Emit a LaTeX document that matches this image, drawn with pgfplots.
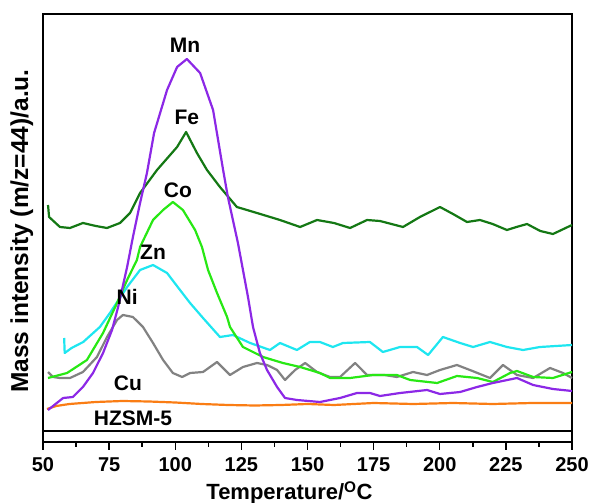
\documentclass[border=0pt]{standalone}
\usepackage{fontspec}
\setmainfont{Liberation Sans}
\usepackage{pgfplots}
\pgfplotsset{compat=1.18}
\usetikzlibrary{calc}

\definecolor{cMn}{RGB}{140,40,230}
\definecolor{cFe}{RGB}{20,120,20}
\definecolor{cCo}{RGB}{40,232,20}
\definecolor{cZn}{RGB}{30,230,240}
\definecolor{cNi}{RGB}{130,130,130}
\definecolor{cCu}{RGB}{250,125,20}

\newcommand{\lbl}{\bfseries\fontsize{21}{24}\selectfont}
\newcommand{\tck}{\bfseries\fontsize{20}{24}\selectfont}

\begin{document}
\begin{tikzpicture}
\begin{axis}[
    name=ax,
    width=529pt, height=428pt, scale only axis,
    xmin=50, xmax=250, ymin=61, ymax=489,
    xtick={50,75,...,250}, minor x tick num=1,
    ytick=\empty,
    xtick pos=bottom, xtick align=outside,
    major tick length=8pt, minor tick length=5pt,
    axis line style={line width=1.6pt},
    tick style={black, line width=1.4pt},
    tick label style={font=\tck},
    /pgf/number format/assume math mode=true,
    xticklabel style={yshift=-4pt},
    xlabel={Temperature/\textsuperscript{O}C},
    ylabel={Mass intensity (m/z=44)/a.u.},
    xlabel style={font=\bfseries\fontsize{22}{24}\selectfont, at={(axis description cs:0.5,0)}, anchor=center, yshift=-51pt, xshift=-18pt},
    ylabel style={font=\bfseries\fontsize{24.5}{26}\selectfont, at={(axis description cs:-0.04,0.493)}, anchor=center},
    every axis plot/.append style={line width=2.2pt, no marks, line join=round},
    clip=false,
]
% HZSM-5
\addplot[black, line width=2pt] coordinates {(50,72) (250,72)};
% Cu
\addplot[cCu] coordinates {
(51.5,94) (55,97) (60,99) (70,101) (80,102) (90,101.5) (100,100.5) (110,99) (120,98) (130,97.5)
(140,98) (150,99) (160,98) (175,100) (190,99) (205,100) (220,99) (235,100) (250,100)
};
% Ni
\addplot[cNi] coordinates {
(51.9,131) (53.8,126) (56.4,125) (60.2,125) (65.1,131) (70.4,146) (74.2,166) (78.0,183)
(80.2,188) (84.0,186) (87.8,176) (91.6,160) (95.4,143) (99.1,130) (102.6,126) (105.6,130)
(110.5,131) (115.8,141) (120.7,128) (125.6,136) (130.9,140) (134.7,138) (138.5,133)
(141.5,123) (145.3,133) (149.1,140) (153.6,131) (158.5,126) (162.3,126) (168.0,140)
(172.5,128) (179.1,128) (183.8,126) (189.9,131) (195.2,128) (200.1,133) (206.5,138)
(211.4,133) (219.0,125) (223.9,138) (229.2,128) (235.3,125) (241.7,135) (246.6,130) (250,125)
};
% Zn
\addplot[cZn] coordinates {
(58.0,165) (58.2,150) (60.8,155) (65.2,161) (71.5,176) (75.3,190) (81.8,216) (86.7,233)
(91.6,238) (96.9,230) (101.8,213) (105.6,200) (110.5,185) (116.9,166) (121.8,168)
(128.3,160) (135.8,153) (139.6,160) (146.0,153) (150.9,161) (154.7,161) (159.6,156)
(163.4,160) (173.6,161) (178.5,151) (185.0,156) (191.4,156) (195.6,148) (201.2,166)
(207.7,160) (212.6,156) (219.0,161) (225.4,156) (231.5,153) (237.9,156) (250,158)
};
% Co
\addplot[cCo] coordinates {
(51.9,125) (59.1,130) (66.6,143) (72.7,170) (78.0,200) (81.8,223) (85.5,243) (86.7,256)
(91.6,283) (95.4,293) (99.1,301) (102.9,293) (107.5,273) (110.1,256) (112.4,233)
(115.8,210) (119.6,186) (120.7,176) (125.6,156) (133.2,146) (140.7,140) (147.2,136)
(154.7,130) (158.5,125) (166.1,125) (174.8,128) (183.8,128) (188.8,123) (199.0,120)
(206.5,127) (214.1,125) (220.1,121) (226.6,130) (229.2,132) (235.3,126) (242.8,125) (250,131)
};
% Fe
\addplot[cFe] coordinates {
(51.9,298) (52.3,286) (56.4,276) (60.2,275) (65.1,280) (70,277) (74.2,275) (79.1,280)
(82.9,290) (86.7,310) (93.1,333) (100.7,356) (104.1,371) (108.2,350) (112.0,333)
(116.9,316) (123.3,296) (130.9,290) (139.6,283) (147.2,276) (153.6,283) (160,280)
(166.1,275) (172.5,283) (177.4,282) (186.1,276) (192.5,286) (200.1,296) (205,289)
(210.3,281) (215.2,283) (220,279) (225.4,273) (229,276) (233.0,279) (238,272) (242.8,269) (250,278)
};
% Mn
\addplot[cMn] coordinates {
(51.9,93) (57.6,105) (61.3,106) (65.1,116) (68.9,130) (72.7,150) (76.1,173) (78.4,196)
(81.8,236) (84.0,266) (86.7,300) (89.3,330) (92,370) (96.9,413) (100.7,436) (104.4,444)
(109.4,430) (114.3,393) (118.1,333) (119.9,306) (121.8,283) (123.7,260) (125.6,233)
(127.5,206) (129.4,176) (132.0,150) (134.7,133) (138.5,116) (141.5,105) (146.0,103)
(154.7,101) (162.3,105) (168.7,110) (173.6,110) (177.4,107) (185.0,110) (195.2,113)
(200.1,109) (207.7,111) (214.1,116) (220.1,120) (229.2,125) (235.3,118) (242.8,114) (250,112)
};
\node[font=\lbl] at (axis cs:103.7,458) {Mn};
\node[font=\lbl] at (axis cs:104.4,386) {Fe};
\node[font=\lbl] at (axis cs:101,313) {Co};
\node[font=\lbl] at (axis cs:91.6,251) {Zn};
\node[font=\lbl] at (axis cs:81.8,206) {Ni};
\node[font=\lbl] at (axis cs:82.1,120) {Cu};
\node[font=\lbl] at (axis cs:84,85) {HZSM-5};
\end{axis}
\pgfresetboundingbox
\path ($(ax.south west)+(-43pt,-61pt)$) rectangle ($(ax.north east)+(20pt,14pt)$);
\end{tikzpicture}
\end{document}
